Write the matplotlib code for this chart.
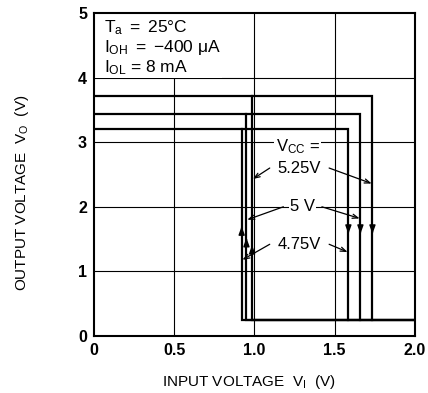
import matplotlib
matplotlib.use("Agg")
import matplotlib.pyplot as plt
from matplotlib.patches import Rectangle

plt.rcParams['font.family'] = ['Liberation Sans', 'DejaVu Sans']
plt.rcParams['mathtext.fontset'] = 'custom'
plt.rcParams['mathtext.rm'] = 'Liberation Sans'
plt.rcParams['mathtext.it'] = 'Liberation Sans:italic'
plt.rcParams['mathtext.bf'] = 'Liberation Sans:bold'

# Data
vcc_labels = ['4.75V', '5 V', '5.25V']
v_high = [3.21, 3.44, 3.72]
v_low = [0.25, 0.25, 0.25]
vt_plus = [1.585, 1.66, 1.735]
vt_minus = [0.92, 0.95, 0.985]
up_arrow_y = [1.62, 1.44, 1.33]
down_arrow_y = [1.66, 1.66, 1.66]
label_pos = [(1.28, 1.42), (1.30, 2.0), (1.28, 2.6)]
label_half = [0.185, 0.12, 0.185]
left_tip_y = [1.18, 1.80, 2.43]
right_tip_y = [1.30, 1.82, 2.36]

x_ticks = [0, 0.5, 1.0, 1.5, 2.0]
x_ticklabels = ['0', '0.5', '1.0', '1.5', '2.0']
y_ticks = [0, 1, 2, 3, 4, 5]

fig = plt.figure(figsize=(4.28, 3.93), dpi=100)
ax = fig.add_axes([0.2196, 0.145, 0.7500, 0.822])
ax.set_xlim(0, 2.0)
ax.set_ylim(0, 5)

# grid
for gx in [0.5, 1.0, 1.5]:
    ax.axvline(gx, color='black', lw=0.8, zorder=1)
for gy in [1, 2, 3, 4]:
    ax.axhline(gy, color='black', lw=0.8, zorder=1)
# blank area for the condition text
ax.add_patch(Rectangle((0, 4.0), 0.80, 1.0, facecolor='white', edgecolor='none', zorder=2))

# hysteresis loops
for vh, vl, tp, tm in zip(v_high, v_low, vt_plus, vt_minus):
    ax.plot([0, tp, tp], [vh, vh, vl], color='black', lw=1.6, zorder=3, solid_joinstyle='miter')
    ax.plot([2.0, tm, tm], [vl, vl, vh], color='black', lw=1.6, zorder=3, solid_joinstyle='miter')

# direction arrowheads
for tp, tm, uy, dy in zip(vt_plus, vt_minus, up_arrow_y, down_arrow_y):
    ax.annotate('', xy=(tp, dy - 0.08), xytext=(tp, dy),
                arrowprops=dict(arrowstyle='-|>,head_length=0.5,head_width=0.18', color='black', lw=1.0), zorder=4)
    ax.annotate('', xy=(tm, uy + 0.08), xytext=(tm, uy),
                arrowprops=dict(arrowstyle='-|>,head_length=0.5,head_width=0.18', color='black', lw=1.0), zorder=4)

# labels with leader arrows
ax.text(1.27, 2.93, r'V$_\mathrm{CC}$ =', fontsize=12, ha='center', va='center',
        bbox=dict(facecolor='white', edgecolor='none', pad=1.0), zorder=5)
for lab, (lx, ly), hw, tp, tm, lt, rt in zip(vcc_labels, label_pos, label_half, vt_plus, vt_minus,
                                             left_tip_y, right_tip_y):
    ax.text(lx, ly, lab, fontsize=12, ha='center', va='center',
            bbox=dict(facecolor='white', edgecolor='none', pad=1.0), zorder=5)
    ax.annotate('', xy=(tm + 0.005, lt), xytext=(lx - hw, ly),
                arrowprops=dict(arrowstyle='->,head_length=0.4,head_width=0.15', color='black', lw=0.9,
                                shrinkA=0, shrinkB=0), zorder=4)
    ax.annotate('', xy=(tp - 0.005, rt), xytext=(lx + hw, ly),
                arrowprops=dict(arrowstyle='->,head_length=0.4,head_width=0.15', color='black', lw=0.9,
                                shrinkA=0, shrinkB=0), zorder=4)

# condition text
ax.text(0.06, 4.77, r'T$_\mathrm{a}$ $=$ 25°C', fontsize=12.5, ha='left', va='center', zorder=5)
ax.text(0.06, 4.46, r'I$_\mathrm{OH}$ $=$ −400 μA', fontsize=12.5, ha='left', va='center', zorder=5)
ax.text(0.06, 4.15, r'I$_\mathrm{OL}$ = 8 mA', fontsize=12.5, ha='left', va='center', zorder=5)

ax.set_xticks(x_ticks)
ax.set_xticklabels(x_ticklabels, fontsize=11.5, fontweight='bold')
ax.set_yticks(y_ticks)
ax.set_yticklabels([str(v) for v in y_ticks], fontsize=11.5, fontweight='bold')
ax.tick_params(length=0, pad=5)
for s in ax.spines.values():
    s.set_linewidth(1.5)
    s.set_zorder(6)

fig.text(0.052, 0.51, r'OUTPUT VOLTAGE  V$_\mathrm{O}$  (V)', rotation=90, fontsize=11,
         ha='center', va='center')
fig.text(0.582, 0.028, r'INPUT VOLTAGE  V$_\mathrm{I}$  (V)', fontsize=11, ha='center', va='center')

fig.savefig('out.png', dpi=100)
